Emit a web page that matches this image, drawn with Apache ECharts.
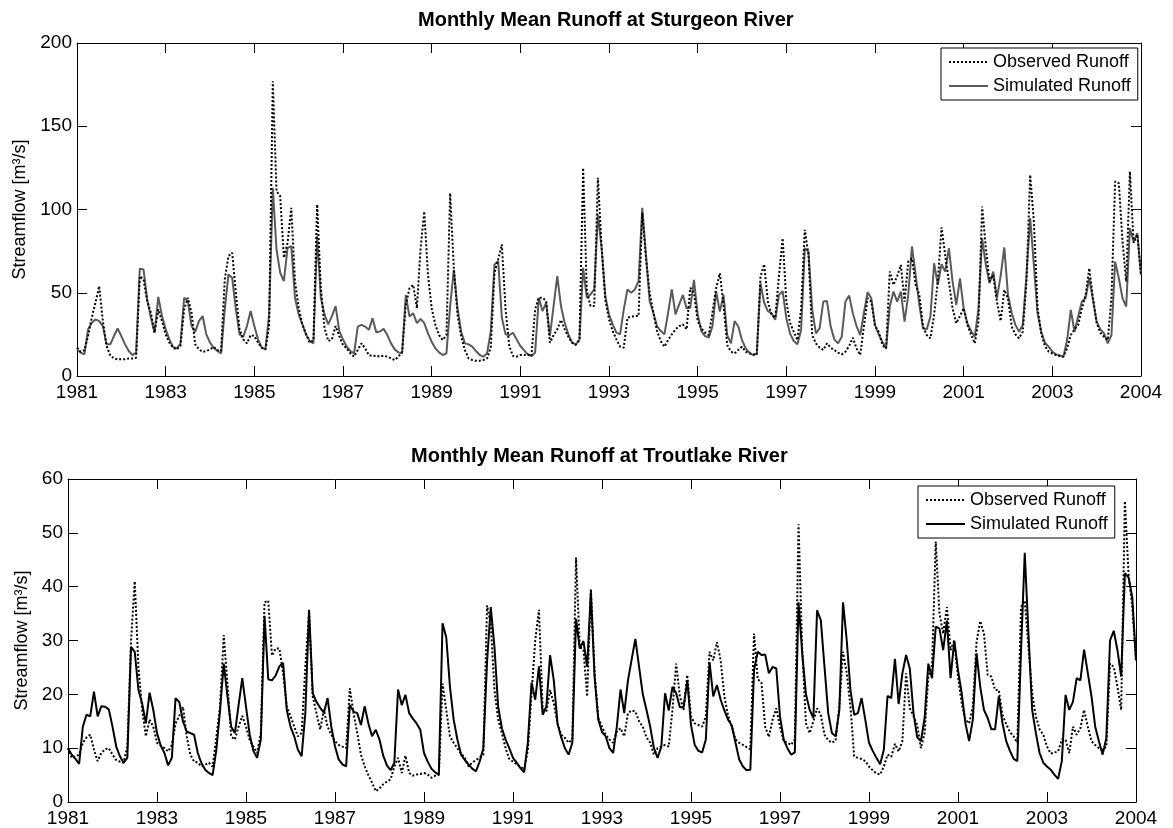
<!DOCTYPE html>
<html>
<head>
<meta charset="utf-8">
<script src="https://cdn.jsdelivr.net/npm/echarts@6/dist/echarts.min.js"></script>
<style>
html,body{margin:0;padding:0;background:#fff;}
#chart{width:1173px;height:828px;}
</style>
</head>
<body>
<div id="chart"></div>
<script>
// Tick labels of the time axis (one every 24 months, last at the end)
const tickLabels = ['1981','1983','1985','1987','1989','1991','1993','1995','1997','1999','2001','2003','2004'];

// Sturgeon River – observed monthly mean runoff (m3/s), Jan 1981 onward
const sturgeonObserved = [
 17,14.5,15.5,24,35,44,54,33,18,12.5,10.5,10,
 10,10,10.5,10.5,11,60,58,45,38,26,40,33,
 25,20,17,16,18,40,47,38,19,16,14.5,15,
 16,17.5,15.5,15,58,72,74,50,28,22,19.6,24.6,
 24,20,17,16,30,177,111,108,71,80,101,57,
 41,31,25,20,21.6,103,53,29,21,22,30,24,
 18.6,16.6,13.6,11.6,15.6,19.6,16.6,12.6,12,12.2,11.6,12.2,
 11.6,10.6,9.6,11.6,14.6,42.7,52.7,54.7,40.7,76.8,98.8,60.7,
 40.7,30.7,24.6,21.6,24.6,109.8,64.7,36.7,23.6,15.6,10.6,9.6,
 9.2,9.2,9.6,10.6,17,62,70,79,40,18,12,11.6,
 12.6,12.6,13,12,40,47,47,45,20,24.6,28,33.7,
 28,23.6,20,18.6,22,125,51,42,42,119,77,46,
 34,27,22,17.6,17,35,35.7,36,36,98,71,50,
 38,27,21,17.6,21.6,25,28,30,31,28,53,50,
 33,28.6,26,24.6,38,52.7,61.7,42.7,18.6,14.6,13.6,15.6,
 17.6,14.6,13.6,13,12.6,59.7,67.1,44.7,36.7,35,60,82.8,
 44.7,32,26.6,21.6,40,87.8,72.7,24.6,19.6,17,15.6,19.6,
 17,15.6,14,13,14.6,18,23,16.6,12.6,30,46.7,44.7,
 30,26.6,18.6,16.6,62.7,54.7,60,66.7,44.7,68.7,70.7,55,
 48.7,29.7,24.6,22.6,36.7,56.7,89.2,72.7,56.7,40.7,31.7,36,
 40.7,30.7,25,19.6,32.7,101.8,76.8,56.7,60.7,44.7,33,51.7,
 46.7,29.7,25,22.6,26.6,56.7,120.8,92.8,40.7,25.6,18,14.6,
 13.5,12.6,12,11.6,16.6,24.6,28,30.7,40.7,48.7,64.7,46.7,
 31.7,26,23.6,21.6,46.7,116.8,115.8,80.8,56.7,122.8,80,85,60.7
];

// Sturgeon River – simulated monthly mean runoff (m3/s)
const sturgeonSimulated = [
 16,14,13,28,32,34,33,30,19,19,24,28.5,
 24,19,15,12.5,14,64.5,64,46,35,26,47.5,36,
 28,22,17.5,16.5,19.5,47,45,30,26.5,33,36,25,
 20,17,15,13.6,40,61,59,40,25,23.5,30,39,
 30,22,17,16,37,113,76,62,57,77,78,47,
 37,31,25,21,19.6,84,47,37,31,36,42,27,
 22,17.6,15,13.6,29.7,30.7,29.7,27.7,34.7,26.3,26.7,28.3,
 24.6,19.6,16,14.2,13.6,48.7,35.7,37.7,31.7,34.3,31.7,25.6,
 20.6,16.6,14.2,12.6,13.6,42,63.7,40.7,26.6,19.6,19,17.6,
 15,12.6,11.6,13.6,27,67,69,35,25,24.5,26,22,
 18,15.5,13,12,14,47,39,44,24,42,60,42,
 32,25,20,19,21.6,65,47,49,52,97,77,48,
 37,31,26,25,40,52,50,52,57,101,73,45,
 38,30,27,25,38,52,37,43,48.7,40.7,41,57.7,
 37,27,24,23,29.7,50.7,38.7,48.7,24.6,19.6,33,29.7,
 21.6,16.6,14,12.6,13.6,55.7,44,39,37.7,33.7,48.7,51,
 34.7,25.6,21,19,27.7,76.8,74.7,40,25.6,28.6,44.7,45,
 29.7,22,19.6,23.6,44.7,48.3,37.7,30,24.6,38,50.3,46.7,
 30.7,25,20.6,16.6,41.7,50.7,44.7,50.7,32.7,48.7,77.8,60.7,
 42.7,28.6,28,35.7,67.7,54.7,67.1,62.7,76.8,56.7,42.7,58.7,
 40.7,31.7,27,23.6,40,82.8,66.7,55.7,62.7,46.7,60,77.2,
 48.7,38,30.7,26.6,30.7,60.7,94.8,66.7,37.7,26.6,20,17.6,
 14.6,13,12.3,11.6,21.6,39.7,26.6,35.7,44.7,46.7,58.7,45.7,
 32.7,28,25.6,19.6,24.6,68.7,58.7,46.7,41.7,88.8,80.8,85.8,60.7
];

// Troutlake River – observed monthly mean runoff (m3/s)
const troutObserved = [
 10,8.2,8.5,8.8,11,12,12.5,9.7,7.6,9.1,9.8,10,
 8.8,7.8,7.5,7.3,10.3,30,41,25,17.1,12.2,15.3,14,
 11,10.5,10,9.4,10.6,14.6,16,17.7,12.2,8.8,7.5,7.3,
 6.6,6.9,7.3,6.6,12,17.7,31,22,12.2,11.6,14,16,
 14,11.5,10.3,9.1,12.8,37.1,37.4,27.2,28.5,28.5,24,17.7,
 16,14,12.2,12.8,25.1,35,19.6,16.5,13.5,17.1,14,12.5,
 11.3,10.6,10.3,10,21.1,16.5,12.8,8.8,6.6,5,3.6,2,
 2.5,3.3,3.8,4.2,6.6,8.2,5.4,8.6,5.4,4.9,5.1,5.2,
 5.4,5.1,4.5,4.9,5,22,17.1,12.2,11,10,9,8.2,
 6.6,7.3,7.8,8.2,8.8,36.5,33.1,20.8,15.3,12.8,10,8,
 7.5,7,6.6,6,9.7,20.2,30,35.7,17.4,16.8,20.8,18.3,
 14.6,12.5,11.9,11,11.6,45.4,28.8,28.3,19.6,39.6,23.9,15.6,
 14,12.5,11.6,11,13.1,13.7,12.2,16.5,17,16.8,15,14,
 12,11,8.8,10,10.3,10.6,10.3,17.1,25.7,19.6,17.1,23.6,
 15.9,14.6,14.3,14,15.9,27.9,26.3,29.7,26.3,19.6,16,14,
 11.6,11,10.6,10.2,9.8,31.3,22.8,22.2,14,12.1,15.3,17.4,
 14,11.3,11,10.6,11.6,51.6,28.2,14.6,12.8,15,17.4,16.2,
 12.5,11.5,11,11.4,17.7,27.9,23.9,17.7,8.5,8.2,8,7.6,
 6.6,5.9,5.3,5.1,6.6,8.8,8.4,10.8,9.4,11.3,23.9,17.4,
 16,14.3,10,12.8,23.3,25.4,48.4,35,31.3,36.2,28.2,30,
 23.3,18.3,15.3,14.6,17.7,29.7,33.6,31.3,23.6,23.3,20.8,20.8,
 16.2,14.5,13,12.2,11,36.2,37.4,28.8,20.2,15.9,13.5,12.5,
 10.3,9,9.2,9.4,11.6,11.6,9.1,14,12.5,13.7,17.1,14,
 11.3,10.6,10,9.7,10.3,25.7,25.1,21.4,17.1,55.9,42.3,36.2,26.3
];

// Troutlake River – simulated monthly mean runoff (m3/s)
const troutSimulated = [
 10,8.8,8,7.1,14,16.2,15.9,20.5,15.9,17.8,17.7,17.2,
 14,10.3,8.5,7.3,8.2,28.8,27.9,20.8,18.3,14.6,20.3,17.1,
 12.8,10.5,9.1,6.8,8.2,19.3,18.6,15,13.1,12.8,12.5,9.1,
 7.2,6,5.4,5,9.7,17,25.7,19.6,14,12.8,18,23,
 17.7,12.5,9.5,8.2,11.6,34.6,22.8,22.6,23.5,25.2,25.8,17.1,
 14,12.2,9.7,8.5,16.5,35.7,20.2,18.6,17.5,16.6,19.3,14,
 10.3,7.9,7,6.6,18,16.8,16.5,14.3,17.8,14.6,12.2,13.4,
 11.6,8.6,6.8,5.9,7.3,20.9,18,19.9,16.5,15.5,14.6,13.4,
 9.1,7.5,6.2,5.5,5.1,33.2,30.6,21.4,15.3,11.6,8.8,7.8,
 7,6.2,5.7,7.5,10,26,36.2,28.8,17.7,13.7,11.6,10,
 8.2,7.3,6.3,5.5,11,22.2,19,25.2,16.2,17.7,27.3,22.6,
 14.6,12,10,8.8,11,34,28.5,29.9,25.1,39,23.3,15.3,
 13,12.2,10,9.1,14,20.9,16.5,22.6,26.5,30.3,25.1,20,
 17.1,14,10,8.2,10.3,20.2,17,21.4,20.2,17.6,17.6,22.6,
 14.3,10.6,9.5,9.2,11.6,26,19.6,21.7,19,17,15.3,14.2,
 11,7.9,6.6,5.9,6,24.5,27.9,27.3,27.4,23.9,25.1,24.8,
 15.9,11.6,10,8.8,9.2,37.1,27.6,20,17.1,15.6,35.6,33.8,
 25.1,16.5,12.8,12.2,17.1,37.1,30,20.8,16.2,16.5,19.3,15.3,
 11,9.5,8.2,7,9.7,19.7,19.3,26.6,18.2,23.9,27.3,24.8,
 16.5,12,11.3,15.6,25.7,23,32.6,32.2,28.2,33.7,23,30,
 24.5,20.2,14.6,11.3,15.3,27.6,21.4,17.1,15.6,13.5,13.5,19.6,
 14.6,11.3,9.5,8,7.6,28.2,46.3,31.3,17.1,12.8,9.1,7.3,
 6.6,6,5.1,4.3,7.6,19.9,17.1,18.6,23,22.6,28.3,24,
 19.6,14,11.3,8.8,11.9,30,31.8,28.2,23.3,42.5,41.7,38,26.3
];

const FONT = '"Liberation Sans", Arial, Helvetica, sans-serif';
const toXY = arr => arr.map((v, i) => [i, v]);

function xAxes(grid) {
  const common = {
    gridIndex: grid, type: 'value', min: 0, max: 288, interval: 24,
    splitLine: {show: false},
    axisLine: {show: true, onZero: false, lineStyle: {color: '#000', width: 1}},
    axisTick: {show: true, inside: true, length: 10, lineStyle: {color: '#000'}}
  };
  return [
    Object.assign({}, common, {position: 'bottom',
      axisLabel: {show: true, color: '#000', fontFamily: FONT, fontSize: 19, margin: 7,
        showMinLabel: true, showMaxLabel: true,
        formatter: v => tickLabels[Math.round(v / 24)] || ''}}),
    Object.assign({}, common, {position: 'top', axisLabel: {show: false}})
  ];
}
function yAxes(grid, max, interval, gap) {
  const common = {
    gridIndex: grid, type: 'value', min: 0, max: max, interval: interval,
    splitLine: {show: false},
    axisLine: {show: true, onZero: false, lineStyle: {color: '#000', width: 1}},
    axisTick: {show: true, inside: true, length: 10, lineStyle: {color: '#000'}}
  };
  return [
    Object.assign({}, common, {position: 'left',
      name: 'Streamflow [m³/s]', nameLocation: 'middle', nameRotate: 90, nameGap: gap,
      nameTextStyle: {color: '#000', fontFamily: FONT, fontSize: 18},
      axisLabel: {show: true, color: '#000', fontFamily: FONT, fontSize: 19, margin: 5}}),
    Object.assign({}, common, {position: 'right', axisLabel: {show: false}})
  ];
}

const chart = echarts.init(document.getElementById('chart'), null, {renderer: 'canvas'});
chart.setOption({
  animation: false,
  backgroundColor: '#fff',
  title: [
    {text: 'Monthly Mean Runoff at Sturgeon River', left: 418, top: 10, padding: 0,
     textStyle: {fontFamily: FONT, fontSize: 20, fontWeight: 'bold', color: '#000'}},
    {text: 'Monthly Mean Runoff at Troutlake River', left: 411, top: 446, padding: 0,
     textStyle: {fontFamily: FONT, fontSize: 20, fontWeight: 'bold', color: '#000'}}
  ],
  grid: [
    {left: 77, top: 43, width: 1064, height: 333, show: false},
    {left: 68, top: 479, width: 1068, height: 325, show: false}
  ],
  xAxis: xAxes(0).concat(xAxes(1)),
  yAxis: yAxes(0, 200, 50, 44).concat(yAxes(1, 60, 10, 34)),
  legend: [
    {left: 941, top: 48, orient: 'vertical', padding: [4, 7, 4, 7], itemGap: 4,
     itemWidth: 39, itemHeight: 14, backgroundColor: '#fff', borderColor: '#000', borderWidth: 1,
     selectedMode: false, itemStyle: {opacity: 0},
     textStyle: {fontFamily: FONT, fontSize: 18, color: '#000', lineHeight: 20},
     data: ['Observed Runoff', 'Simulated Runoff']},
    {left: 918, top: 486, orient: 'vertical', padding: [4, 7, 4, 7], itemGap: 4,
     itemWidth: 39, itemHeight: 14, backgroundColor: '#fff', borderColor: '#000', borderWidth: 1,
     selectedMode: false, itemStyle: {opacity: 0},
     textStyle: {fontFamily: FONT, fontSize: 18, color: '#000', lineHeight: 20},
     formatter: n => n.replace(' (Troutlake)', ''),
     data: ['Observed Runoff (Troutlake)', 'Simulated Runoff (Troutlake)']}
  ],
  series: [
    {name: 'Observed Runoff', type: 'line', xAxisIndex: 0, yAxisIndex: 0, symbol: 'none',
     data: toXY(sturgeonObserved), lineStyle: {color: '#000', width: 2, type: 'dotted'},
     itemStyle: {color: '#000'}, z: 3},
    {name: 'Simulated Runoff', type: 'line', xAxisIndex: 0, yAxisIndex: 0, symbol: 'none',
     data: toXY(sturgeonSimulated), lineStyle: {color: '#5a5a5a', width: 2, type: 'solid'},
     itemStyle: {color: '#5a5a5a'}, z: 2},
    {name: 'Observed Runoff (Troutlake)', type: 'line', xAxisIndex: 2, yAxisIndex: 2, symbol: 'none',
     data: toXY(troutObserved), lineStyle: {color: '#000', width: 2, type: 'dotted'},
     itemStyle: {color: '#000'}, z: 3},
    {name: 'Simulated Runoff (Troutlake)', type: 'line', xAxisIndex: 2, yAxisIndex: 2, symbol: 'none',
     data: toXY(troutSimulated), lineStyle: {color: '#000', width: 2, type: 'solid'},
     itemStyle: {color: '#000'}, z: 2}
  ]
});
</script>
</body>
</html>
